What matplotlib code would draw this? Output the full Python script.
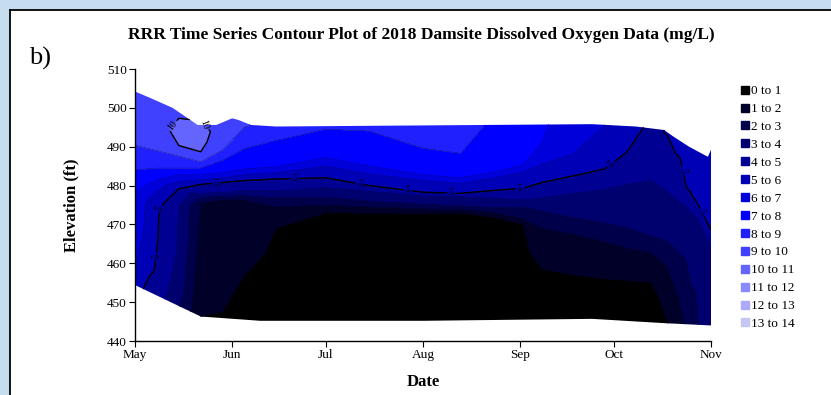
import numpy as np
import pandas as pd
import matplotlib
matplotlib.use("Agg")
import matplotlib.pyplot as plt
import matplotlib.dates as mdates
import matplotlib.tri as mtri
from matplotlib.patches import Polygon, Rectangle
from matplotlib.lines import Line2D

plt.rcParams['font.family'] = ['Liberation Serif', 'DejaVu Serif']

# DO profiles (mg/L), bottom -> surface
profile_dates = ['2018-05-01', '2018-05-08', '2018-05-15', '2018-05-22', '2018-05-29',
                 '2018-06-05', '2018-06-15', '2018-07-01', '2018-07-15', '2018-08-01',
                 '2018-08-13', '2018-08-24', '2018-09-02', '2018-09-08', '2018-09-18',
                 '2018-09-28', '2018-10-05', '2018-10-13', '2018-10-18', '2018-10-24',
                 '2018-10-28', '2018-11-01']
profile_elev = [
    [454.4, 458.0, 466.0, 473.0, 478.5, 484.0, 490.4, 497.0, 504.2],
    [451.7, 458.0, 466.0, 474.0, 478.5, 481.5, 484.5, 489.0, 495.0, 501.6],
    [448.9, 456.0, 464.0, 474.5, 479.2, 481.0, 482.8, 484.5, 487.6, 490.3, 494.0, 497.3, 498.4],
    [446.3, 460.0, 470.0, 475.5, 477.0, 478.0, 480.3, 481.5, 482.7, 484.5, 486.1, 488.7, 492.0, 495.6],
    [445.9, 447.5, 460.0, 470.0, 476.3, 477.2, 478.2, 480.8, 482.0, 483.3, 486.5, 489.2, 496.3],
    [445.6, 457.0, 466.0, 476.3, 477.4, 478.8, 481.3, 482.8, 484.3, 489.5, 495.6],
    [445.2, 460.0, 469.0, 474.5, 476.8, 478.6, 481.7, 483.3, 484.8, 491.6, 495.2],
    [445.2, 460.0, 473.0, 475.0, 477.0, 479.5, 482.0, 485.0, 487.2, 494.5, 495.2],
    [445.2, 460.0, 472.9, 474.5, 476.0, 478.5, 480.0, 483.0, 485.0, 494.0, 495.2],
    [445.2, 460.0, 472.9, 474.0, 475.2, 477.3, 478.3, 481.3, 482.8, 489.6, 495.2],
    [445.2, 460.0, 472.9, 473.8, 474.8, 477.1, 478.0, 480.6, 482.0, 488.3, 495.2],
    [445.4, 460.0, 471.8, 473.0, 474.3, 476.7, 478.8, 482.0, 483.5, 495.2],
    [445.5, 460.0, 470.0, 471.5, 474.5, 476.3, 479.3, 483.5, 485.3, 495.4],
    [445.5, 452.0, 458.5, 469.0, 473.5, 476.8, 480.8, 485.5, 491.0, 495.5],
    [445.7, 452.0, 457.0, 467.5, 471.8, 478.0, 482.5, 488.2, 495.7],
    [445.6, 452.0, 456.0, 465.5, 470.5, 479.0, 484.3, 495.5],
    [445.3, 452.0, 455.6, 464.0, 469.2, 480.3, 488.5, 495.3],
    [444.8, 450.0, 455.1, 462.6, 467.0, 481.3, 488.0, 494.6],
    [444.5, 452.0, 459.2, 465.8, 478.5, 486.0, 493.0, 493.3],
    [444.3, 452.0, 460.9, 474.5, 480.0, 491.0],
    [444.2, 456.0, 471.1, 475.0, 488.6],
    [444.0, 454.0, 464.3, 468.6, 489.2],
]
profile_do = [
    [5.3, 6.0, 6.4, 6.7, 7.0, 8.0, 9.0, 9.4, 9.6],
    [4.5, 4.85, 5.05, 5.1, 6.0, 7.0, 8.0, 9.0, 9.5, 9.8],
    [3.1, 3.6, 3.9, 4.0, 5.0, 6.0, 7.0, 8.0, 9.0, 10.0, 10.4, 10.0, 9.9],
    [1.0, 1.5, 1.8, 2.0, 3.0, 4.0, 5.0, 6.0, 7.0, 8.0, 9.0, 10.0, 10.4, 10.1],
    [0.8, 1.0, 1.3, 1.6, 2.0, 3.0, 4.0, 5.0, 6.0, 7.0, 8.0, 9.0, 9.5],
    [0.6, 1.0, 1.5, 2.0, 3.0, 4.0, 5.0, 6.0, 7.0, 8.0, 9.1],
    [0.5, 0.7, 1.0, 2.0, 3.0, 4.0, 5.0, 6.0, 7.0, 8.0, 8.5],
    [0.4, 0.5, 1.0, 2.0, 3.0, 4.0, 5.0, 6.0, 7.0, 8.0, 8.1],
    [0.3, 0.4, 1.0, 2.0, 3.0, 4.0, 5.0, 6.0, 7.0, 8.0, 8.2],
    [0.3, 0.4, 1.0, 2.0, 3.0, 4.0, 5.0, 6.0, 7.0, 8.0, 8.6],
    [0.3, 0.4, 1.0, 2.0, 3.0, 4.0, 5.0, 6.0, 7.0, 8.0, 8.4],
    [0.3, 0.4, 1.0, 2.0, 3.0, 4.0, 5.0, 6.0, 7.0, 7.8],
    [0.3, 0.5, 1.0, 2.0, 3.0, 4.0, 5.0, 6.0, 7.0, 7.6],
    [0.3, 0.6, 1.0, 2.0, 3.0, 4.0, 5.0, 6.0, 7.0, 7.1],
    [0.3, 0.6, 1.0, 2.0, 3.0, 4.0, 5.0, 6.0, 6.6],
    [0.3, 0.6, 1.0, 2.0, 3.0, 4.0, 5.0, 6.0],
    [0.3, 0.6, 1.0, 2.0, 3.0, 4.0, 5.0, 5.4],
    [0.4, 0.6, 1.0, 2.0, 3.0, 4.0, 4.4, 4.8],
    [0.95, 1.4, 2.0, 3.0, 4.0, 4.5, 5.0, 5.05],
    [2.1, 2.5, 3.0, 4.0, 5.0, 5.6],
    [3.0, 3.5, 4.0, 5.0, 5.7],
    [3.4, 3.7, 4.0, 5.0, 5.8],
]

# water surface and reservoir bottom
surface_dates = ['2018-05-01', '2018-05-06', '2018-05-13', '2018-05-21', '2018-05-27',
                 '2018-06-01', '2018-06-03', '2018-06-07', '2018-06-15', '2018-09-24',
                 '2018-10-08', '2018-10-17', '2018-10-20', '2018-10-25', '2018-10-31',
                 '2018-11-01']
surface_elev = [504.2, 502.5, 500.0, 495.6, 495.6, 497.3, 496.9, 495.6, 495.2, 495.8,
                495.2, 494.3, 492.6, 490.0, 487.4, 489.2]
bottom_dates = ['2018-05-01', '2018-05-22', '2018-06-10', '2018-08-01', '2018-09-24',
                '2018-10-17', '2018-11-01']
bottom_elev = [454.4, 446.3, 445.2, 445.2, 445.7, 444.6, 444.0]

# where the contour labels sit on the 5 and 10 lines
label_dates = ['2018-05-12', '2018-05-22', '2018-05-08', '2018-05-08', '2018-05-27',
               '2018-06-21', '2018-07-12', '2018-07-27', '2018-08-10', '2018-09-01',
               '2018-10-01', '2018-10-22', '2018-10-29']
label_elev = [496.0, 495.5, 474.6, 461.7, 480.6, 482.7, 481.0, 478.4, 478.0, 479.3,
              484.5, 483.6, 473.0]

levels = list(range(15))
level_colors = ['#000000', '#000028', '#00004a', '#00006e', '#000092', '#0000b6', '#0000db',
                '#0000ff', '#2020ff', '#4040ff', '#6464ff', '#8a8aff', '#aaaaf8', '#c6c6f3']
legend_labels = [f"{i} to {i + 1}" for i in range(14)]

# --- scattered points (each profile padded above/below so the hull covers the lake) ---
xs, ys, zs = [], [], []
for d, el, do in zip(profile_dates, profile_elev, profile_do):
    t = mdates.date2num(pd.Timestamp(d))
    el = [441.0] + el + [509.0]
    do = [do[0]] + do + [do[-1]]
    xs += [t] * len(el)
    ys += el
    zs += do
xs, ys, zs = np.array(xs), np.array(ys), np.array(zs)
tri = mtri.Triangulation(xs, ys)

fig = plt.figure(figsize=(8.31, 3.95), dpi=100)
fig.patch.set_facecolor('#c6ddef')
fig.patches.append(Rectangle((9 / 831, 0), 1.0, 1 - 9 / 395, transform=fig.transFigure,
                             facecolor='white', edgecolor='none', zorder=-10))
fig.add_artist(Line2D([9.5 / 831, 1.0], [1 - 9.5 / 395] * 2, transform=fig.transFigure,
                      color='black', linewidth=1.3))
fig.add_artist(Line2D([9.5 / 831] * 2, [0, 1 - 9.5 / 395], transform=fig.transFigure,
                      color='black', linewidth=1.3))

ax = fig.add_axes([135 / 831, 1 - 341 / 395, 576 / 831, 272 / 395])
ax.set_facecolor('none')

tcf = ax.tricontourf(tri, zs, levels=levels, colors=level_colors)
thin = ax.tricontour(tri, zs, levels=levels[1:-1], colors='k', linewidths=0.35, alpha=0.5)
thick = ax.tricontour(tri, zs, levels=[5, 10], colors='k', linewidths=1.0)
spots = list(zip(mdates.date2num(pd.to_datetime(label_dates)), label_elev))
lbls = ax.clabel(thick, fmt='%d', fontsize=7, inline=True, inline_spacing=2, manual=spots)

sx = mdates.date2num(pd.to_datetime(surface_dates))
bx = mdates.date2num(pd.to_datetime(bottom_dates))
outline = np.column_stack([np.r_[sx, bx[::-1]], np.r_[surface_elev, bottom_elev[::-1]]])
lake = Polygon(outline, closed=True, transform=ax.transData, facecolor='none', edgecolor='none')
for cs in (tcf, thin, thick):
    cs.set_clip_path(lake)

ax.set_xlim(mdates.date2num(pd.Timestamp('2018-05-01')), mdates.date2num(pd.Timestamp('2018-11-01')))
ax.set_ylim(440, 510)
ax.set_yticks(range(440, 511, 10))
ax.xaxis.set_major_locator(mdates.MonthLocator())
ax.xaxis.set_major_formatter(mdates.DateFormatter('%b'))
for s in ('top', 'right'):
    ax.spines[s].set_visible(False)
for s in ('left', 'bottom'):
    ax.spines[s].set_linewidth(1.0)
ax.tick_params(labelsize=9.5, length=4, width=0.8, pad=2)

ax.set_xlabel('Date', fontsize=12, fontweight='bold', labelpad=9)
ax.set_ylabel('Elevation (ft)', fontsize=12, fontweight='bold', labelpad=20)

fig.text(0.507, 1 - 35 / 395, 'RRR Time Series Contour Plot of 2018 Damsite Dissolved Oxygen Data (mg/L)',
         ha='center', va='center', fontsize=12.5, fontweight='bold')
fig.text(29 / 831, 1 - 58 / 395, 'b)', ha='left', va='center', fontsize=19)

handles = [Line2D([], [], marker='s', linestyle='none', markersize=5.5, color=c) for c in level_colors]
fig.legend(handles, legend_labels, loc='upper left', bbox_to_anchor=(741 / 831, 1 - 85 / 395),
           frameon=False, fontsize=9.5, handlelength=0.6, handletextpad=0.15,
           labelspacing=0.43, borderpad=0, borderaxespad=0)

fig.savefig('out.png', dpi=100)
